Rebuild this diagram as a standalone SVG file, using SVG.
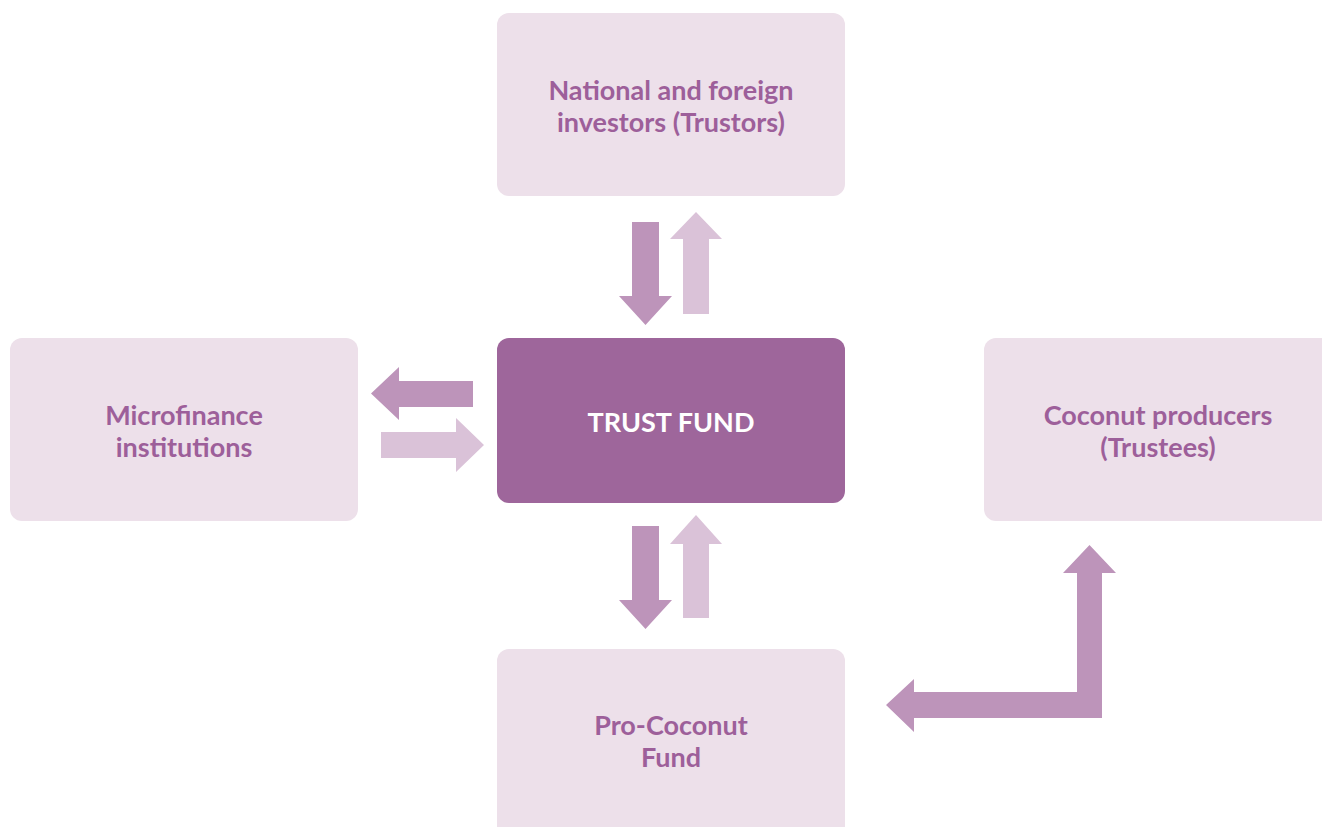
<svg xmlns="http://www.w3.org/2000/svg" width="1322" height="827" viewBox="0 0 1322 827">
<style>
.box{fill:#ede0ea}
.core{fill:#9e669b}
.t{font-family:Lato,"Open Sans",sans-serif;font-weight:bold;font-size:27px;fill:#9d5f9a;text-anchor:middle}
.tc{font-family:Lato,"Open Sans",sans-serif;font-weight:bold;font-size:27px;fill:#ffffff;text-anchor:middle}
.dk{fill:#bd94ba}
.lt{fill:#dac2d8}
</style>
<rect width="1322" height="827" fill="#ffffff"/>
<g id="investors">
<rect class="box" x="497" y="13" width="348" height="183" rx="12"/>
<text class="t" x="671" y="100">National and foreign</text>
<text class="t" x="671" y="132">investors (Trustors)</text>
</g>
<g id="microfinance">
<rect class="box" x="10" y="338" width="348" height="183" rx="12"/>
<text class="t" x="184" y="425">Microfinance</text>
<text class="t" x="184" y="457">institutions</text>
</g>
<g id="trustfund">
<rect class="core" x="497" y="338" width="348" height="165" rx="12"/>
<text class="tc" x="671" y="432">TRUST FUND</text>
</g>
<g id="producers">
<rect class="box" x="984" y="338" width="360" height="183" rx="12"/>
<text class="t" x="1158" y="425">Coconut producers</text>
<text class="t" x="1158" y="457">(Trustees)</text>
</g>
<g id="prococonut">
<rect class="box" x="497" y="649" width="348" height="200" rx="12"/>
<text class="t" x="671" y="735">Pro-Coconut</text>
<text class="t" x="671" y="767">Fund</text>
</g>
<g id="connectors">
<polygon class="dk" points="632,222 659,222 659,296 672,296 645.5,325 619,296 632,296"/>
<polygon class="lt" points="683,314 709,314 709,239 722,239 696,212 670,239 683,239"/>
<polygon class="dk" points="632,526 659,526 659,600 672,600 645.5,629 619,600 632,600"/>
<polygon class="lt" points="683,618 709,618 709,544 722,544 696,515 670,544 683,544"/>
<polygon class="dk" points="473,381 473,407 399,407 399,420 371,393.5 399,367 399,381"/>
<polygon class="lt" points="381,432 381,458 456,458 456,472 484,445 456,418 456,432"/>
<polygon class="dk" points="1077,573 1063,573 1089.5,545 1116,573 1102,573 1102,718 914,718 914,732 886,705 914,679 914,692 1077,692"/>
</g>
</svg>
